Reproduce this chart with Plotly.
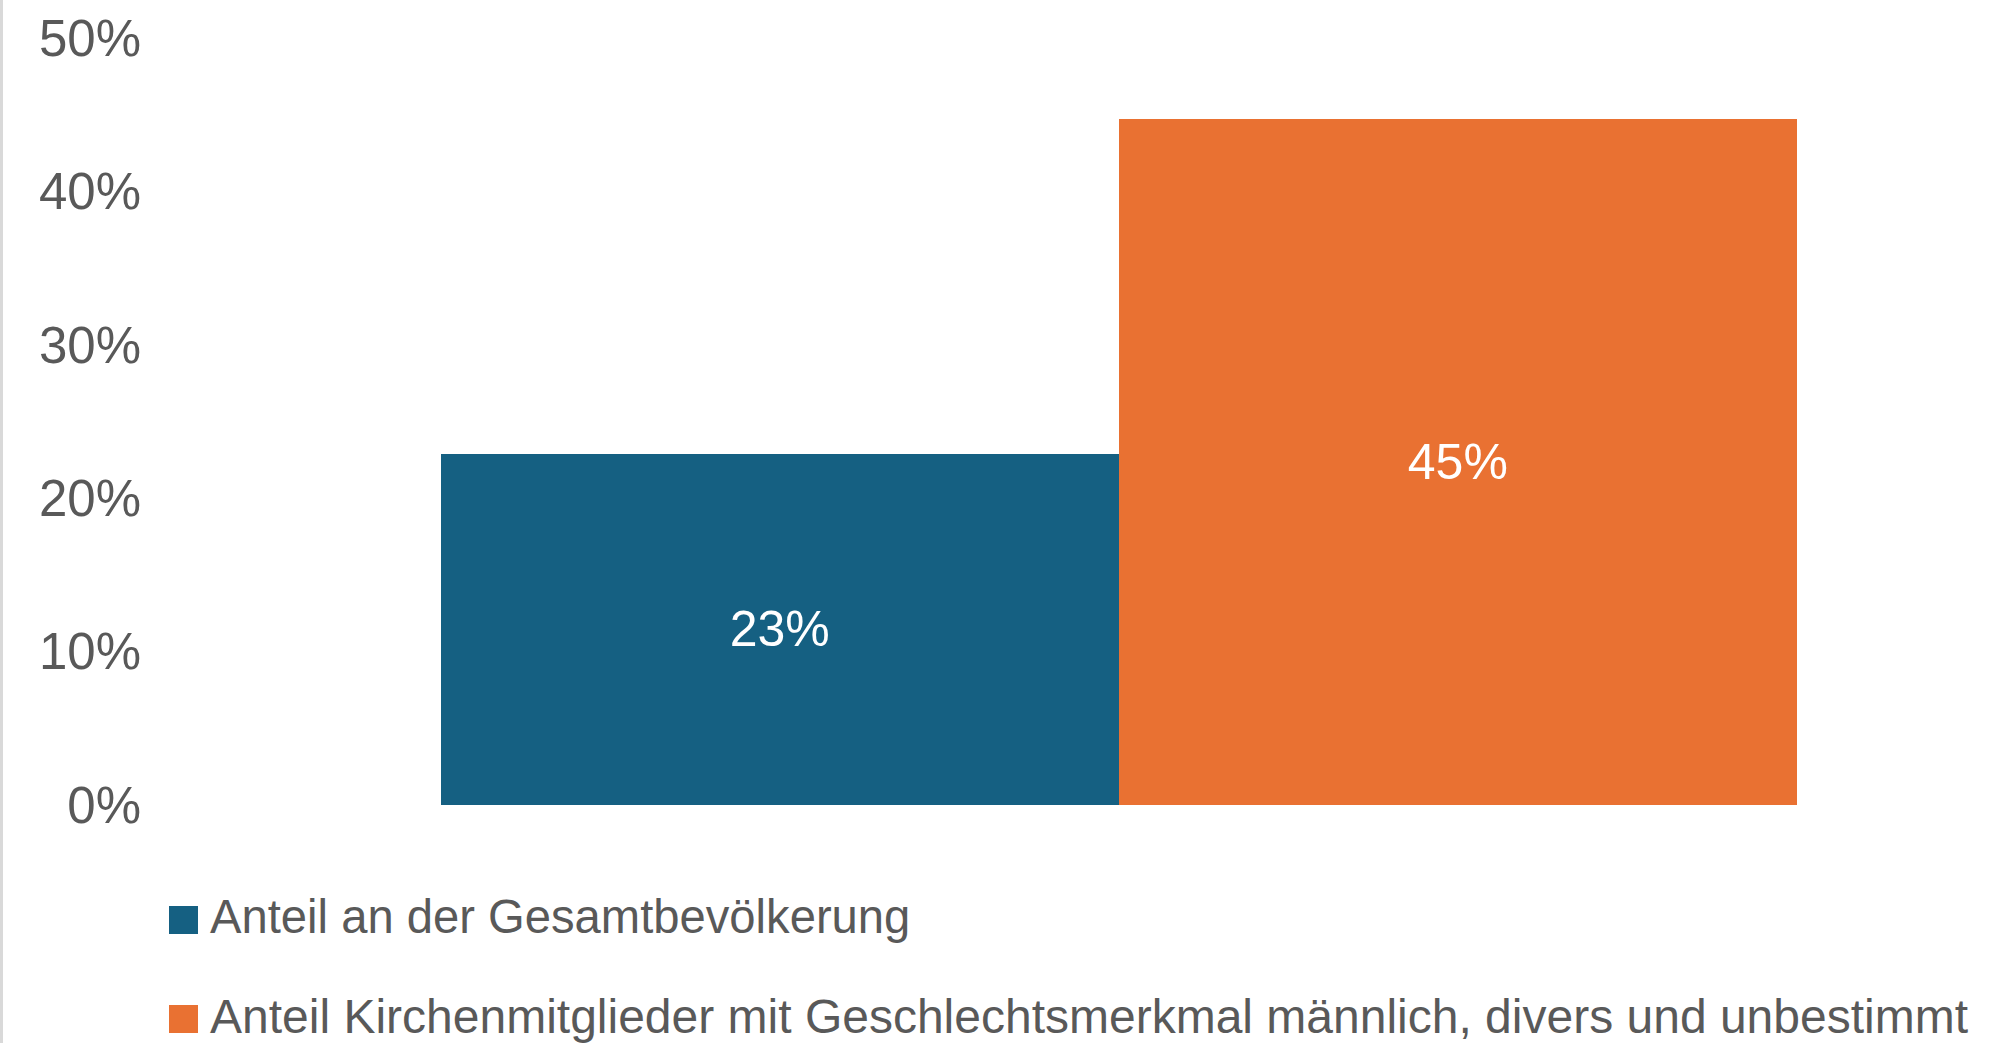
import plotly.graph_objects as go

# ---- data ----
series_names = [
    "Anteil an der Gesamtbevölkerung",
    "Anteil Kirchenmitglieder mit Geschlechtsmerkmal männlich, divers und unbestimmt",
]
series_values = [0.229, 0.447]
category = [""]
y_ticks = [0, 0.1, 0.2, 0.3, 0.4, 0.5]
y_tick_labels = ["0%", "10%", "20%", "30%", "40%", "50%"]
colors = ["#156082", "#E97132"]

# ---- layout geometry ----
W, H = 2014, 1043
L, R, T, B = 150, 10, 38, 238
PW = W - L - R
PH = H - T - B
FONT = "Liberation Sans, Arial, sans-serif"
GRAY = "#595959"


def px_x(px):
    return (px - L) / PW


def px_y(py):
    return (H - B - py) / PH


fig = go.Figure()
for name, val, col in zip(series_names, series_values, colors):
    fig.add_trace(go.Bar(
        x=category, y=[val], name=name,
        marker=dict(color=col, line=dict(width=0)),
        texttemplate="%{y:.0%}", textposition="inside",
        insidetextanchor="middle",
        textfont=dict(family=FONT, size=50, color="white"),
        showlegend=False,
    ))

# manual legend (large square keys)
rows = [(906, 934, 916, 47.2), (1005, 1033, 1016, 48)]
shapes = []
annotations = []
for (y_top, y_bot, y_txt, fs), name, col in zip(rows, series_names, colors):
    shapes.append(dict(type="rect", xref="paper", yref="paper",
                       x0=px_x(169), x1=px_x(198), y0=px_y(y_bot), y1=px_y(y_top),
                       fillcolor=col, line=dict(width=0)))
    annotations.append(dict(xref="paper", yref="paper", x=px_x(208), y=px_y(y_txt),
                            xanchor="left", yanchor="middle", showarrow=False,
                            text=name, font=dict(family=FONT, size=fs, color=GRAY)))

# light gray left border
shapes.append(dict(type="line", xref="paper", yref="paper",
                   x0=px_x(1.5), x1=px_x(1.5), y0=px_y(H), y1=px_y(0),
                   line=dict(color="#d9d9d9", width=3)))

fig.update_layout(
    width=W, height=H,
    margin=dict(l=L, r=R, t=T, b=B),
    paper_bgcolor="white", plot_bgcolor="white",
    barmode="group", bargap=0, bargroupgap=0,
    shapes=shapes, annotations=annotations,
    font=dict(family=FONT, color=GRAY),
    hovermode=False,
)
fig.update_xaxes(range=[-0.7143, 0.6527], showticklabels=False, showgrid=False,
                 zeroline=False, showline=False, ticks="")
fig.update_yaxes(range=[0, 0.5], tickvals=y_ticks, ticktext=y_tick_labels,
                 showgrid=False, zeroline=False, showline=False, ticks="",
                 ticklabelstandoff=8,
                 tickfont=dict(family=FONT, size=51, color=GRAY))

fig.write_html("out.html",
               config={"displayModeBar": False, "staticPlot": True},
               post_script="document.body.style.margin='0px';document.body.style.overflow='hidden';")
